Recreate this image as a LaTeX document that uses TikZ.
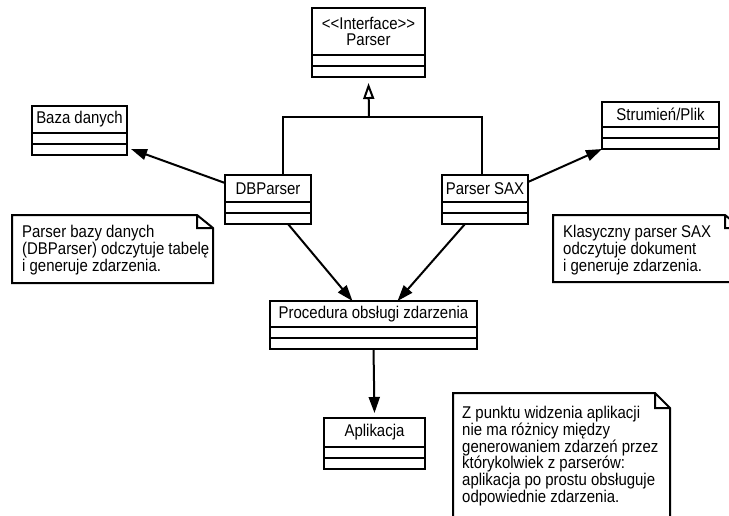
\documentclass[tikz,border=0pt]{standalone}
\usepackage{fontspec}
\setmainfont{Liberation Sans}[FakeStretch=0.88]
\usetikzlibrary{positioning,arrows.meta}
\tikzset{
  clsname/.style={draw,line width=2pt,inner sep=0pt,outer sep=0pt,anchor=north west,align=center},
  clspart/.style={draw,line width=2pt,inner sep=0pt,outer sep=0pt,minimum height=11pt},
  assoc/.style={line width=2pt,-{Triangle[length=16pt,width=11pt]}},
  gen/.style={line width=2pt,-{Triangle[open,length=16pt,width=11pt]}},
  notebox/.style={line width=2pt,line join=miter},
  notetext/.style={anchor=north west,inner sep=0pt,align=left}
}
% class box: name, top left corner, width, height of the name part, text
\newcommand{\umlclass}[5]{%
  \node[clsname,minimum width=#3pt,minimum height=#4pt] (#1) at (#2) {#5};
  \node[clspart,minimum width=#3pt,below=0pt of #1] (#1-a) {};
  \node[clspart,minimum width=#3pt,below=0pt of #1-a] (#1-b) {};}
\begin{document}
\begin{tikzpicture}[x=1pt,y=-1pt,font=\fontsize{17}{16.8}\selectfont]
\clip (0,0) rectangle (729,515);
\umlclass{parser}{312,8}{113}{47}{<\kern0pt<Interface>\kern0pt>\\Parser}
\umlclass{baza}{32,106}{95}{27}{Baza danych}
\umlclass{strum}{602,102}{117}{25}{Strumień/Plik}
\umlclass{dbp}{225,175}{86}{27}{DBParser}
\umlclass{sax}{442,175}{86}{27}{Parser SAX}
\umlclass{proc}{270,301}{207}{26}{Procedura obsługi zdarzenia}
\umlclass{apl}{324,418}{101}{29}{Aplikacja}
\coordinate (joint) at (369,117);
\draw[line width=2pt] ([xshift=15pt]dbp.north) |- (joint) -| ([xshift=-3pt]sax.north);
\draw[gen] (joint) -- ([yshift=-6pt]parser-b.south);
\draw[assoc] ([yshift=-8pt]dbp.north west) -- ([xshift=4pt,yshift=6pt]baza-b.south east);
\draw[assoc] ([yshift=-7pt]sax.north east) -- (strum-b.south west);
\draw[assoc] ([xshift=20pt]dbp-b.south) -- ([xshift=-21pt]proc.north);
\draw[assoc] ([xshift=-20pt]sax-b.south) -- ([xshift=24pt]proc.north);
\draw[assoc] (proc-b.south) -- ([yshift=5pt]apl.north);
% notes
\draw[notebox] (12,215) -- (197,215) -- (213,228) -- (213,283) -- (12,283) -- cycle (197,215) |- (213,228);
\node[notetext] (dbnote) at (22,225) {Parser bazy danych\\(DBParser) odczytuje tabelę\\i generuje zdarzenia.};
\draw[notebox] (553,215) -- (725,215) -- (741,228) -- (741,282) -- (553,282) -- cycle (725,215) |- (741,228);
\node[notetext] (saxnote) at (563,225) {Klasyczny parser SAX\\odczytuje dokument\\i generuje zdarzenia.};
\draw[notebox] (453,393) -- (655,393) -- (670,408) -- (670,530) -- (453,530) -- cycle (655,393) |- (670,408);
\node[notetext] (appnote) at (462,406) {Z punktu widzenia aplikacji\\nie ma różnicy między\\generowaniem zdarzeń przez\\którykolwiek z parserów:\\aplikacja po prostu obsługuje\\odpowiednie zdarzenia.};
\end{tikzpicture}
\end{document}
